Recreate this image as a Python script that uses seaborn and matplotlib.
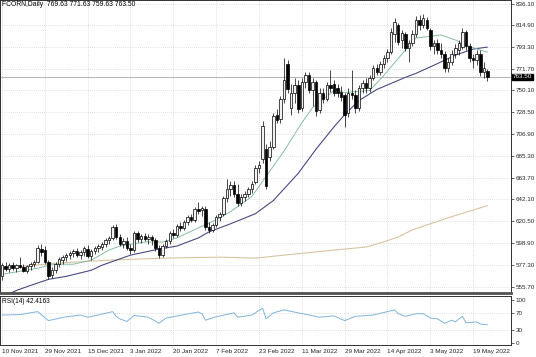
import numpy as np
import pandas as pd
import seaborn as sns
import matplotlib.pyplot as plt

sns.set_style("white")
plt.rcParams['font.family'] = ['Liberation Sans', 'DejaVu Sans']

# daily candles (bar 0 = 10 Nov 2021)
opens = [566, 576, 573, 577, 574, 577, 575, 571, 576, 578,
         580, 593, 592, 580, 567, 572, 578, 582, 585, 587,
         589, 591, 587, 590, 593, 586, 591, 594, 595, 598,
         602, 604, 615, 605, 598, 601, 594, 592, 609, 603,
         606, 603, 605, 602, 594, 587, 596, 601, 609, 607,
         616, 614, 620, 625, 622, 633, 632, 633, 615, 612,
         617, 625, 628, 644, 652, 656, 648, 639, 645, 648,
         652, 659, 673, 682, 692, 684, 694, 726, 722, 742,
         776, 733, 748, 755, 733, 758, 765, 750, 758, 731,
         748, 742, 755, 756, 752, 749, 746, 728, 748, 746,
         733, 752, 757, 752, 762, 772, 768, 776, 782, 788,
         806, 815, 800, 806, 792, 797, 806, 820, 815, 820,
         810, 794, 797, 790, 786, 772, 778, 786, 790, 793,
         808, 794, 782, 780, 786, 768, 769.63]
highs = [579, 580, 579, 580, 578, 585, 578, 577, 580, 582,
         597, 598, 596, 582, 575, 580, 585, 587, 589, 591,
         593, 594, 592, 596, 597, 593, 596, 598, 600, 604,
         606, 617, 618, 608, 604, 605, 598, 611, 611, 608,
         609, 608, 607, 604, 597, 598, 603, 611, 613, 618,
         620, 622, 627, 628, 635, 640, 636, 636, 620, 619,
         627, 630, 646, 662, 660, 660, 657, 648, 650, 654,
         660, 676, 680, 720, 697, 700, 728, 732, 745, 782,
         780, 756, 762, 760, 762, 768, 768, 762, 760, 752,
         752, 758, 770, 760, 756, 754, 748, 752, 770, 750,
         755, 760, 762, 765, 775, 776, 779, 785, 791, 812,
         822, 817, 810, 808, 800, 810, 824, 825, 826, 823,
         812, 800, 801, 797, 789, 782, 790, 796, 800, 812,
         810, 797, 786, 790, 790, 778, 771.63]
lows = [562, 571, 570, 572, 570, 574, 570, 569, 572, 575,
        579, 586, 578, 563, 564, 569, 575, 578, 581, 583,
        585, 585, 583, 586, 584, 582, 588, 590, 592, 595,
        598, 602, 603, 596, 594, 592, 588, 590, 600, 599,
        601, 598, 597, 591, 584, 585, 594, 598, 604, 605,
        611, 612, 617, 620, 620, 628, 626, 612, 609, 610,
        615, 621, 626, 640, 646, 645, 636, 636, 641, 645,
        649, 657, 668, 678, 652, 680, 692, 718, 718, 738,
        748, 726, 738, 728, 730, 752, 748, 735, 725, 728,
        738, 740, 749, 745, 744, 740, 714, 724, 742, 728,
        730, 748, 748, 749, 760, 765, 765, 772, 778, 786,
        798, 795, 792, 789, 778, 794, 803, 810, 812, 810,
        790, 786, 786, 782, 768, 768, 775, 782, 785, 791,
        790, 778, 772, 775, 764, 762, 759.63]
closes = [577, 573, 577, 574, 577, 575, 571, 576, 578, 580,
          594, 590, 580, 566, 572, 578, 583, 585, 587, 589,
          591, 587, 590, 594, 586, 591, 594, 596, 598, 602,
          604, 615, 605, 598, 601, 594, 592, 609, 603, 606,
          603, 605, 602, 594, 587, 596, 601, 609, 607, 616,
          614, 620, 625, 622, 633, 631, 634, 615, 612, 617,
          625, 628, 644, 652, 656, 648, 639, 645, 648, 652,
          657, 673, 676, 715, 655, 694, 725, 721, 742, 760,
          751, 748, 755, 732, 758, 765, 750, 758, 730, 748,
          742, 755, 752, 748, 748, 744, 726, 748, 746, 733,
          752, 757, 752, 762, 772, 768, 776, 782, 788, 808,
          818, 798, 807, 792, 797, 806, 820, 815, 822, 812,
          794, 797, 790, 786, 772, 778, 786, 792, 797, 808,
          794, 782, 780, 786, 768, 772, 763.50]

# moving averages, read at a few bars
ma_fast_idx = [0, 10, 14, 20, 25, 30, 33, 40, 45, 49, 55, 60, 64, 70, 73,
               79, 84, 87, 93, 96, 103, 107, 113, 116, 123, 127, 130, 134, 136]
ma_fast_val = [568, 574, 578, 578, 582, 592, 596, 600, 600, 604, 614, 622, 630, 645, 660,
               690, 718, 733, 750, 748, 750, 765, 790, 802, 805, 800, 795, 790, 788]
ma_mid_idx = [0, 4, 8, 13, 18, 25, 28, 36, 44, 49, 55, 58, 64, 71, 76, 83,
              88, 93, 96, 100, 105, 113, 116, 121, 127, 132, 136]
ma_mid_val = [545, 552, 557, 563, 566, 572, 577, 587, 593, 596, 604, 610, 618, 628, 641, 668,
              692, 714, 726, 740, 751, 763, 767, 775, 785, 791, 793]
ma_slow_idx = [0, 15, 30, 45, 61, 71, 79, 93, 102, 106, 111, 115, 125, 136]
ma_slow_val = [574, 579, 582, 584, 585, 584, 587, 592, 595, 599, 605, 612, 624, 636]

# RSI(14)
rsi_idx = [0, 5, 10, 13, 18, 22, 24, 27, 31, 32, 33, 35, 37, 41, 44, 46, 51, 55,
           56, 57, 60, 65, 66, 70, 73, 74, 76, 79, 83, 86, 89, 93, 96, 99, 104,
           109, 110, 111, 113, 116, 118, 120, 122, 124, 126, 127, 129, 130, 133, 134, 136]
rsi_val = [65, 66, 73, 52, 61, 65, 60, 65, 73, 62, 56, 50, 64, 60, 46, 58, 66, 72,
           68, 53, 61, 70, 60, 65, 81, 56, 70, 77, 70, 65, 60, 63, 52, 62, 65,
           75, 77, 68, 62, 68, 68, 58, 56, 46, 53, 49, 62, 47, 49, 44, 42.4163]

date_pos = [0, 12, 24, 36, 48, 60, 72, 84, 96, 108, 120, 132]
date_labels = ['10 Nov 2021', '29 Nov 2021', '15 Dec 2021', '3 Jan 2022', '20 Jan 2022',
               '7 Feb 2022', '23 Feb 2022', '11 Mar 2022', '29 Mar 2022', '14 Apr 2022',
               '3 May 2022', '19 May 2022']
price_ticks = [555.70, 577.30, 598.90, 620.50, 642.10, 663.70, 685.30, 706.90,
               728.50, 750.10, 771.70, 793.30, 814.90, 836.10]
rsi_ticks = [0, 30, 70, 100]

df = pd.DataFrame({'open': opens, 'high': highs, 'low': lows, 'close': closes})
df['idx'] = np.arange(len(df))
up = df['close'] >= df['open']

fig = plt.figure(figsize=(5.36, 3.57), dpi=100)
ax = fig.add_axes([0.0, 1 - 293 / 357, 511 / 536, 293 / 357])
rax = fig.add_axes([0.0, 12 / 357, 511 / 536, 49 / 357])

grid_kw = dict(color='#c4c4c4', lw=0.5, ls=(0, (1, 2)))
for a in (ax, rax):
    for p in date_pos:
        a.axvline(p, zorder=0, **grid_kw)
for p in price_ticks:
    ax.axhline(p, zorder=0, **grid_kw)
for p in [30, 70]:
    rax.axhline(p, zorder=0, **grid_kw)

# moving averages
sns.lineplot(x=ma_slow_idx, y=ma_slow_val, ax=ax, color='#d8c3a0', lw=0.8, zorder=2)
sns.lineplot(x=ma_mid_idx, y=ma_mid_val, ax=ax, color='#4a4a86', lw=0.8, zorder=2)
sns.lineplot(x=ma_fast_idx, y=ma_fast_val, ax=ax, color='#86bfa0', lw=0.7, zorder=2)

# candles
ax.vlines(df['idx'], df['low'], df['high'], color='black', lw=0.5, zorder=3)
body = (df['close'] - df['open']).abs().clip(lower=0.8)
bottom = df[['open', 'close']].min(axis=1)
ax.bar(df['idx'], body, bottom=bottom, width=0.7,
       color=np.where(up, '#f2f2f2', 'black'), edgecolor='black', lw=0.5, zorder=4)

# bid line and price label
ax.axhline(closes[-1], color='#a8a8a8', lw=0.6, zorder=1)
ax.annotate(f'{closes[-1]:.2f}', xy=(1.0, closes[-1]), xycoords=('axes fraction', 'data'),
            xytext=(1.2, 0), textcoords='offset points', ha='left', va='center',
            fontsize=4.5, color='white',
            bbox=dict(boxstyle='square,pad=0.12', fc='black', ec='black'))

ax.text(0.004, 0.997, 'FCORN,Daily  769.63 771.63 759.63 763.50', transform=ax.transAxes,
        va='top', ha='left', fontsize=4.9, color='black')

ax.set_xlim(-0.56, 142.6)
ax.set_ylim(549.5, 839.6)
ax.yaxis.tick_right()
ax.set_yticks(price_ticks)
ax.set_yticklabels([f'{p:.2f}' for p in price_ticks])
ax.set_xticks(date_pos)
ax.set_xticklabels([])
ax.tick_params(axis='y', labelsize=4.5, length=2, width=0.5, pad=1.2, right=True)
ax.tick_params(axis='x', length=0)
ax.set_xlabel('')
ax.set_ylabel('')

# RSI panel
sns.lineplot(x=rsi_idx, y=rsi_val, ax=rax, color='#7fb4dc', lw=0.7)
rax.text(0.004, 0.95, 'RSI(14) 42.4163', transform=rax.transAxes, va='top', ha='left',
         fontsize=4.7, color='black')
rax.set_xlim(-0.56, 142.6)
rax.set_ylim(-4.7, 109.3)
rax.yaxis.tick_right()
rax.set_yticks(rsi_ticks)
rax.set_yticklabels([str(t) for t in rsi_ticks])
rax.set_xticks(date_pos)
rax.set_xticklabels(date_labels, ha='left')
rax.tick_params(axis='y', labelsize=4.5, length=2, width=0.5, pad=1.2, right=True)
rax.tick_params(axis='x', labelsize=4.6, length=2, width=0.5, pad=1)
rax.set_xlabel('')
rax.set_ylabel('')

for a in (ax, rax):
    for s in a.spines.values():
        s.set_color('#303030')
        s.set_linewidth(0.7)
ax.spines['bottom'].set_linewidth(2.0)
ax.spines['bottom'].set_color('#505050')

fig.savefig('out.png', dpi=100)
